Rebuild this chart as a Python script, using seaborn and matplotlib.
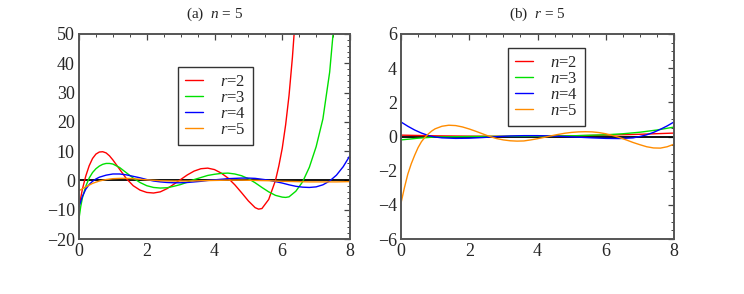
import numpy as np
import pandas as pd
import matplotlib
matplotlib.use("Agg")
import matplotlib.pyplot as plt
from matplotlib.ticker import MultipleLocator
import seaborn as sns

# panel (a): n = 5, curves for r = 2..5
xa_r2 = [0, 0.1, 0.2, 0.3, 0.4, 0.5, 0.6, 0.7, 0.8, 0.9, 1.0, 1.2, 1.4, 1.6, 1.8, 2.0, 2.2, 2.4,
         2.6, 2.8, 3.0, 3.2, 3.4, 3.6, 3.8, 4.0, 4.2, 4.4, 4.6, 4.8, 5.0, 5.2, 5.3, 5.4, 5.6,
         5.8, 5.9, 6.0, 6.1, 6.2, 6.3, 6.4]
ya_r2 = [-9, -3, 1.5, 5, 7.5, 9, 9.7, 9.8, 9.4, 8.4, 7, 3.8, 0.6, -1.8, -3.3, -4.1, -4.3, -3.9,
         -2.8, -1.3, 0.3, 1.9, 3.2, 4.0, 4.2, 3.7, 2.5, 0.8, -1.5, -4.2, -7.0, -9.3, -9.8, -9.6, -6.5,
         0, 5, 11, 19, 29, 42, 58]

xa_r3 = [0, 0.05, 0.1, 0.2, 0.3, 0.4, 0.5, 0.6, 0.7, 0.8, 0.9, 1.0, 1.2, 1.4, 1.6, 1.8, 2.0, 2.2,
         2.4, 2.6, 2.8, 3.0, 3.2, 3.4, 3.6, 3.8, 4.0, 4.2, 4.4, 4.6, 4.8, 5.0, 5.2, 5.4, 5.6, 5.8,
         6.0, 6.1, 6.2, 6.4, 6.6, 6.8, 7.0, 7.2, 7.4, 7.5, 7.6]
ya_r3 = [-13, -9, -6, -2, 0.8, 2.7, 4.0, 4.9, 5.5, 5.8, 5.8, 5.6, 4.4, 2.6, 0.8, -0.7, -1.8, -2.4,
         -2.6, -2.5, -2.0, -1.4, -0.6, 0.3, 1.0, 1.7, 2.1, 2.4, 2.5, 2.2, 1.6, 0.6, -0.8, -2.4, -3.9, -5.1,
         -5.7, -5.8, -5.6, -3.7, -0.5, 4.5, 11.5, 21, 37, 50, 63]

xa_r4 = [0, 0.1, 0.2, 0.3, 0.4, 0.5, 0.6, 0.8, 1.0, 1.2, 1.4, 1.6, 1.8, 2.0, 2.2, 2.4, 2.6, 2.8,
         3.0, 3.2, 3.4, 3.6, 3.8, 4.0, 4.2, 4.4, 4.6, 4.8, 5.0, 5.2, 5.4, 5.6, 5.8, 6.0, 6.2, 6.4,
         6.6, 6.8, 7.0, 7.2, 7.4, 7.6, 7.8, 8.0]
ya_r4 = [-9, -5.5, -3, -1.4, -0.3, 0.5, 1.1, 1.8, 2.2, 2.2, 1.9, 1.4, 0.9, 0.3, -0.2, -0.5, -0.7, -0.8,
         -0.8, -0.7, -0.5, -0.3, 0.0, 0.2, 0.4, 0.6, 0.7, 0.8, 0.8, 0.7, 0.4, 0.1, -0.4, -0.9, -1.5, -2.0,
         -2.3, -2.4, -2.2, -1.5, -0.2, 1.8, 4.7, 8.5]

xa_r5 = [0, 0.2, 0.4, 0.6, 0.8, 1.0, 1.2, 1.4, 1.6, 1.8, 2.0, 2.4, 2.8, 3.2, 3.6, 4.0, 4.4, 4.8,
         5.2, 5.6, 6.0, 6.4, 6.8, 7.2, 7.6, 8.0]
ya_r5 = [-3.5, -2.2, -1.0, -0.2, 0.3, 0.6, 0.7, 0.7, 0.6, 0.4, 0.2, -0.1, -0.2, -0.2, -0.1, 0.0, 0.1, 0.1,
         0.0, -0.1, -0.3, -0.4, -0.5, -0.5, -0.5, -0.4]

# panel (b): r = 5, curves for n = 2..5
xb_n2 = [0, 1, 2, 3, 4, 5, 6, 7, 8]
yb_n2 = [0.08, 0.04, 0.02, 0.01, 0.02, 0.04, 0.08, 0.13, 0.2]

xb_n3 = [0, 0.5, 1.0, 2.0, 3.0, 4.0, 5.0, 6.0, 6.5, 7.0, 7.5, 8.0]
yb_n3 = [-0.2, -0.1, -0.03, 0.0, 0.01, 0.02, 0.04, 0.1, 0.16, 0.25, 0.38, 0.55]

xb_n4 = [0, 0.2, 0.4, 0.6, 0.8, 1.0, 1.2, 1.6, 2.0, 2.4, 2.8, 3.2, 3.6, 4.0, 4.4, 4.8, 5.2, 5.6,
         6.0, 6.4, 6.8, 7.0, 7.2, 7.4, 7.6, 7.8, 8.0]
yb_n4 = [0.85, 0.6, 0.38, 0.2, 0.06, -0.03, -0.08, -0.11, -0.1, -0.06, -0.01, 0.03, 0.05, 0.05, 0.03, 0.0, -0.04, -0.08,
         -0.11, -0.12, -0.08, 0.0, 0.1, 0.24, 0.42, 0.62, 0.85]

xb_n5 = [0, 0.1, 0.2, 0.3, 0.4, 0.5, 0.6, 0.7, 0.8, 0.9, 1.0, 1.2, 1.4, 1.6, 1.8, 2.0, 2.2, 2.4,
         2.6, 2.8, 3.0, 3.2, 3.4, 3.6, 3.8, 4.0, 4.2, 4.4, 4.6, 4.8, 5.0, 5.2, 5.4, 5.6, 5.8, 6.0,
         6.2, 6.4, 6.6, 6.8, 7.0, 7.2, 7.4, 7.6, 7.8, 8.0]
yb_n5 = [-3.9, -3.0, -2.2, -1.6, -1.1, -0.65, -0.3, -0.05, 0.15, 0.32, 0.45, 0.6, 0.66, 0.64, 0.56, 0.44, 0.3, 0.15,
         0.0, -0.12, -0.2, -0.25, -0.27, -0.26, -0.2, -0.13, -0.05, 0.04, 0.12, 0.19, 0.24, 0.27, 0.28, 0.27, 0.23, 0.16,
         0.06, -0.06, -0.2, -0.35, -0.48, -0.6, -0.67, -0.68, -0.6, -0.45]

colors = ["#ff0000", "#00e000", "#0000ff", "#ff8c00"]

sns.set_style("white")
plt.rcParams["font.family"] = ["Liberation Serif", "DejaVu Serif"]
plt.rcParams["mathtext.fontset"] = "custom"
plt.rcParams["mathtext.it"] = "Liberation Serif:italic"
plt.rcParams["mathtext.rm"] = "Liberation Serif"


def make_df(series, names):
    rows = []
    for (xs, ys), name in zip(series, names):
        for x, y in zip(xs, ys):
            rows.append({"x": x, "y": y, "curve": name})
    return pd.DataFrame(rows)


df_a = make_df([(xa_r2, ya_r2), (xa_r3, ya_r3), (xa_r4, ya_r4), (xa_r5, ya_r5)],
               ["$r$=2", "$r$=3", "$r$=4", "$r$=5"])
df_b = make_df([(xb_n2, yb_n2), (xb_n3, yb_n3), (xb_n4, yb_n4), (xb_n5, yb_n5)],
               ["$n$=2", "$n$=3", "$n$=4", "$n$=5"])

fig = plt.figure(figsize=(7.44, 2.94), dpi=100)
ax1 = fig.add_axes([79 / 744, 1 - 239 / 294, 271 / 744, 205 / 294])
ax2 = fig.add_axes([401 / 744, 1 - 239 / 294, 273 / 744, 205 / 294])


def style_axes(ax, ylim, ymaj, ymin, title):
    ax.axhline(0, color="black", lw=1.3, zorder=1)
    ax.set_xlim(0, 8)
    ax.set_ylim(*ylim)
    ax.xaxis.set_major_locator(MultipleLocator(2))
    ax.xaxis.set_minor_locator(MultipleLocator(0.5))
    ax.yaxis.set_major_locator(MultipleLocator(ymaj))
    ax.yaxis.set_minor_locator(MultipleLocator(ymin))
    ax.tick_params(which="both", direction="in", top=True, right=True,
                   color="#444444", labelsize=13, pad=3)
    ax.tick_params(which="major", length=4, width=0.9)
    ax.tick_params(which="minor", length=2, width=0.7)
    for sp in ax.spines.values():
        sp.set_color("#555555")
        sp.set_linewidth(1.4)
    ax.set_xlabel("")
    ax.set_ylabel("")
    ax.set_title(title, fontsize=11, pad=12)


sns.lineplot(data=df_a, x="x", y="y", hue="curve", palette=colors, ax=ax1,
             lw=1.0, sort=False, estimator=None)
sns.lineplot(data=df_b, x="x", y="y", hue="curve", palette=colors, ax=ax2,
             lw=1.0, sort=False, estimator=None)

style_axes(ax1, (-20, 50), 10, 2, "(a)  $n$ = 5")
style_axes(ax2, (-6, 6), 2, 0.5, "(b)  $r$ = 5")

for ax, anchor in [(ax1, (0.365, 0.839)), (ax2, (0.392, 0.932))]:
    leg = ax.legend(loc="upper left", bbox_to_anchor=anchor, fontsize=12,
                    frameon=True, fancybox=False, edgecolor="black",
                    borderpad=0.42, handlelength=1.1, handletextpad=1.0,
                    labelspacing=0.0, borderaxespad=0)
    leg.get_frame().set_linewidth(1.0)

fig.savefig("out.png", dpi=100)
